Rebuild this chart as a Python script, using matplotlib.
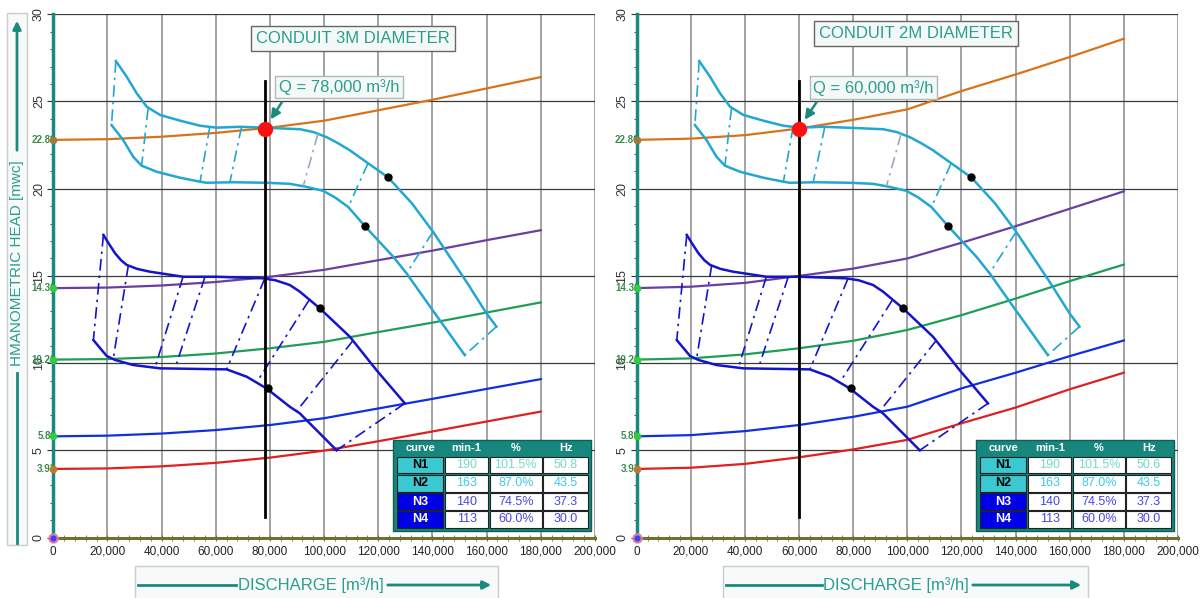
import matplotlib.pyplot as plt
from matplotlib.patches import Rectangle, FancyArrowPatch
from matplotlib.lines import Line2D
from matplotlib.ticker import MultipleLocator, FuncFormatter

plt.rcParams['font.family'] = ['Liberation Sans', 'DejaVu Sans']

# curvas del sistema (caudal en m3/h, altura en mca)
Q_SIS = [0, 20000, 40000, 60000, 80000, 100000, 120000, 140000, 160000, 180000]

H_3M_NARANJA = [22.80, 22.84, 22.98, 23.20, 23.50, 23.90, 24.50, 25.10, 25.75, 26.40]
H_3M_VIOLETA = [14.30, 14.33, 14.45, 14.65, 14.95, 15.35, 15.90, 16.45, 17.05, 17.62]
H_3M_VERDE = [10.20, 10.23, 10.35, 10.55, 10.85, 11.22, 11.78, 12.32, 12.90, 13.48]
H_3M_AZUL = [5.80, 5.84, 5.96, 6.16, 6.45, 6.84, 7.40, 7.95, 8.52, 9.08]
H_3M_ROJO = [3.93, 3.96, 4.08, 4.28, 4.58, 4.98, 5.52, 6.08, 6.65, 7.22]

H_2M_NARANJA = [22.80, 22.87, 23.07, 23.45, 23.95, 24.55, 25.60, 26.55, 27.55, 28.60]
H_2M_VIOLETA = [14.30, 14.38, 14.60, 15.00, 15.42, 16.00, 16.90, 17.85, 18.85, 19.85]
H_2M_VERDE = [10.20, 10.27, 10.50, 10.85, 11.28, 11.90, 12.75, 13.70, 14.70, 15.65]
H_2M_AZUL = [5.80, 5.87, 6.10, 6.45, 6.92, 7.50, 8.55, 9.45, 10.40, 11.30]
H_2M_ROJO = [3.93, 4.00, 4.22, 4.60, 5.05, 5.60, 6.55, 7.45, 8.50, 9.45]

H_INICIO = [22.80, 14.30, 10.20, 5.80, 3.93]
ETIQUETAS_INICIO = ["22.80", "14.30", "10.20", "5.80", "3.93"]

# curvas de la bomba N1..N4
N1_Q = [23100, 27100, 30800, 34500, 39400, 46800, 54200, 60300, 68900, 77500,
        91100, 96000, 101000, 105000, 109500, 116200, 123600, 132400, 140200,
        152900, 159900, 163600]
N1_H = [27.32, 26.42, 25.47, 24.70, 24.23, 23.90, 23.61, 23.50, 23.55, 23.50,
        23.41, 23.25, 22.95, 22.62, 22.20, 21.46, 20.65, 19.16, 17.53,
        14.58, 12.86, 12.09]

N2_Q = [21500, 25800, 29500, 32600, 38200, 46800, 54200, 56600, 66400, 78700,
        87300, 93000, 99600, 104000, 108900, 115000, 125500, 130400, 140200, 151900]
N2_H = [23.65, 22.79, 21.83, 21.32, 20.97, 20.63, 20.40, 20.34, 20.37, 20.34,
        20.28, 20.12, 19.88, 19.50, 18.95, 17.86, 16.10, 15.15, 13.00, 10.46]

N3_Q = [18500, 20500, 22800, 25000, 27100, 31000, 35700, 48000, 60300, 77500,
        82000, 87300, 91000, 98400, 109500, 119300, 129800]
N3_H = [17.35, 16.85, 16.30, 15.90, 15.63, 15.40, 15.24, 14.95, 14.95, 14.86,
        14.75, 14.48, 14.10, 13.14, 11.51, 9.60, 7.69]

N4_Q = [14800, 19700, 22800, 29500, 39400, 64000, 71400, 78700, 87300, 91000, 104600]
N4_H = [11.32, 10.41, 10.18, 9.89, 9.70, 9.64, 9.22, 8.55, 7.50, 7.12, 5.00]

# lineas de rendimiento entre curvas (punto alto -> punto bajo)
ISO_12_Q_ALTO = [23100, 35000, 57800, 69500, 97700, 116200, 140200, 163600]
ISO_12_H_ALTO = [27.32, 24.60, 23.55, 23.55, 23.15, 21.46, 17.53, 12.09]
ISO_12_Q_BAJO = [21500, 32600, 54200, 65200, 92300, 108900, 130400, 151900]
ISO_12_H_BAJO = [23.65, 21.32, 20.40, 20.37, 20.15, 18.95, 15.15, 10.46]

ISO_34_Q_ALTO = [18500, 27700, 47900, 56000, 78100, 94400, 110700, 129800]
ISO_34_H_ALTO = [17.35, 15.60, 14.95, 14.95, 14.86, 13.60, 11.30, 7.69]
ISO_34_Q_BAJO = [14800, 22100, 37500, 44900, 64000, 75100, 89800, 104600]
ISO_34_H_BAJO = [11.32, 10.22, 9.72, 9.68, 9.64, 8.90, 7.24, 5.00]

PUNTOS_Q = [123600, 115000, 98400, 79300]
PUNTOS_H = [20.65, 17.86, 13.14, 8.55]

H_OPERACION = 23.45
LINEA_OP_H = [1.2, 26.2]

# tabla
ENCABEZADO = ["curve", "min-1", "%", "Hz"]
CURVAS = ["N1", "N2", "N3", "N4"]
RPM = ["190", "163", "140", "113"]
PORCENTAJE = ["101.5%", "87.0%", "74.5%", "60.0%"]
HZ_3M = ["50.8", "43.5", "37.3", "30.0"]
HZ_2M = ["50.6", "43.5", "37.3", "30.0"]

TEAL = "#2a9d8f"
TEAL_OSCURO = "#1a8a7f"
CIAN = "#22a7d3"
AZUL_BOMBA = "#1414cc"
COLORES_SISTEMA = ["#d8731c", "#6b3fa0", "#1f9e55", "#1030e0", "#e02020"]
COLORES_INICIO = ["#9c7a3c", "#33cc44", "#2ecc40", "#2ecc40", "#c07830"]
COLOR_CELDA = ["#3cc8d0", "#3cc8d0", "#0000e6", "#0000e6"]
COLOR_TEXTO_CELDA = ["black", "black", "white", "white"]
COLOR_VALORES = ["#78d8c8", "#40c8e8", "#4646e6", "#4646e6"]

DASHDOT = (0, (7, 3, 1.5, 3))


def formato_miles(v, pos):
    return f"{int(v):,}"


def dibujar_tabla(ax, hz):
    x0, x1 = 125500, 198400
    ax.add_patch(Rectangle((x0, 0.37), x1 - x0, 5.22, fc="#17877d",
                           ec="#0d5f58", lw=1, zorder=6))
    cols = [(126800, 144000), (144600, 160600), (161200, 180300), (180900, 197500)]
    filas = [(3.64, 4.63), (2.57, 3.64), (1.54, 2.57), (0.53, 1.54)]

    for (ca, cb), t in zip(cols, ENCABEZADO):
        ax.text((ca + cb) / 2, 5.11, t, color="white", ha="center", va="center",
                fontsize=8, fontweight="bold", zorder=8)

    for i, (ya, yb) in enumerate(filas):
        valores = [CURVAS[i], RPM[i], PORCENTAJE[i], hz[i]]
        for j, (ca, cb) in enumerate(cols):
            fc = COLOR_CELDA[i] if j == 0 else "white"
            ax.add_patch(Rectangle((ca, ya + 0.04), cb - ca, yb - ya - 0.08,
                                   fc=fc, ec="#222222", lw=0.8, zorder=7))
            if j == 0:
                ax.text((ca + cb) / 2, (ya + yb) / 2, valores[j],
                        color=COLOR_TEXTO_CELDA[i], ha="center", va="center",
                        fontsize=9, fontweight="bold", zorder=8)
            else:
                ax.text((ca + cb) / 2, (ya + yb) / 2, valores[j],
                        color=COLOR_VALORES[i], ha="center", va="center",
                        fontsize=9, zorder=8)


def dibujar_panel(ax, curvas_sistema, q_op, titulo, pos_titulo, texto_q, pos_q,
                  flecha, hz):
    ax.set_xlim(0, 200000)
    ax.set_ylim(0, 30)

    ax.xaxis.set_major_locator(MultipleLocator(20000))
    ax.xaxis.set_minor_locator(MultipleLocator(4000))
    ax.yaxis.set_major_locator(MultipleLocator(5))
    ax.yaxis.set_minor_locator(MultipleLocator(1))
    ax.xaxis.set_major_formatter(FuncFormatter(formato_miles))

    ax.grid(which="major", axis="x", color="#8a8a8a", lw=1.1, zorder=0)
    ax.grid(which="major", axis="y", color="#3a3a3a", lw=0.9, zorder=0)
    ax.set_axisbelow(True)

    for lado in ["top", "right"]:
        ax.spines[lado].set_visible(False)
    ax.spines["left"].set_color("#1a8a80")
    ax.spines["left"].set_linewidth(2.5)
    ax.spines["bottom"].set_color("#707030")
    ax.spines["bottom"].set_linewidth(2.2)

    ax.tick_params(axis="y", which="major", direction="out", length=4,
                   color="#333333", labelrotation=90, labelsize=9,
                   labelcolor="#333333", pad=2)
    ax.tick_params(axis="y", which="minor", direction="out", length=2.5,
                   color="#333333")
    ax.tick_params(axis="x", which="both", direction="inout", length=4,
                   color="#707030", labelsize=8.5, labelcolor="#222222", pad=4)
    for lbl in ax.get_yticklabels():
        lbl.set_verticalalignment("center")

    # curvas del sistema
    for h, c in zip(curvas_sistema, COLORES_SISTEMA):
        ax.plot(Q_SIS, h, color=c, lw=1.6, zorder=3)

    # bandas de la bomba
    ax.plot(N1_Q, N1_H, color=CIAN, lw=1.8, zorder=4)
    ax.plot(N2_Q, N2_H, color=CIAN, lw=1.8, zorder=4)
    ax.plot(N3_Q, N3_H, color=AZUL_BOMBA, lw=1.8, zorder=4)
    ax.plot(N4_Q, N4_H, color=AZUL_BOMBA, lw=1.8, zorder=4)

    for i in range(len(ISO_12_Q_ALTO)):
        color = "#9aaabb" if i == 4 else CIAN
        ax.plot([ISO_12_Q_ALTO[i], ISO_12_Q_BAJO[i]],
                [ISO_12_H_ALTO[i], ISO_12_H_BAJO[i]],
                color=color, lw=1.2, linestyle=DASHDOT, zorder=4)
    for i in range(len(ISO_34_Q_ALTO)):
        ax.plot([ISO_34_Q_ALTO[i], ISO_34_Q_BAJO[i]],
                [ISO_34_H_ALTO[i], ISO_34_H_BAJO[i]],
                color=AZUL_BOMBA, lw=1.2, linestyle=DASHDOT, zorder=4)

    ax.plot(PUNTOS_Q, PUNTOS_H, "o", color="black", ms=5, zorder=6)

    # punto de operacion
    ax.plot([q_op, q_op], LINEA_OP_H, color="black", lw=2, zorder=5)
    ax.plot(q_op, H_OPERACION, "o", color="#ff1010", ms=10, zorder=9)

    # marcas de inicio
    for h, c, t in zip(H_INICIO, COLORES_INICIO, ETIQUETAS_INICIO):
        ax.plot(0, h, "o", color=c, ms=4.5, clip_on=False, zorder=10)
        ax.annotate(t, xy=(0, h), xytext=(2, 0), textcoords="offset points",
                    ha="right", va="center", fontsize=7, fontweight="bold",
                    color="#3a8a4a", annotation_clip=False, zorder=9)
    ax.plot(0, 0, "o", mfc="#4040ff", mec="#e080a0", mew=1.5, ms=6,
            clip_on=False, zorder=10)

    ax.text(pos_titulo[0], pos_titulo[1], titulo, color=TEAL, fontsize=12,
            ha="center", va="center", zorder=9,
            bbox=dict(boxstyle="square,pad=0.3", fc="#f4f9f8", ec="#666666", lw=1))
    ax.text(pos_q[0], pos_q[1], texto_q, color=TEAL, fontsize=12,
            ha="center", va="center", zorder=9,
            bbox=dict(boxstyle="square,pad=0.2", fc="#f4f9f8", ec="#b0b8b8", lw=1))
    ax.annotate("", xy=flecha[1], xytext=flecha[0],
                arrowprops=dict(arrowstyle="-|>", color=TEAL_OSCURO, lw=1.8,
                                mutation_scale=14), zorder=9)

    dibujar_tabla(ax, hz)


def fig_px(fig, x, y):
    return x / 1203, 1 - y / 598


def etiqueta_x(fig, x0, x1, xt0, xt1, xc):
    fx, fy = fig_px(fig, x0, 600)
    fig.add_artist(Rectangle((fx, fy), (x1 - x0) / 1203, 34 / 598,
                             transform=fig.transFigure, fc="#f7faf9",
                             ec="#c8cccc", lw=1))
    y = 585
    a = fig_px(fig, x0 + 3, y)
    b = fig_px(fig, xt0, y)
    fig.add_artist(Line2D([a[0], b[0]], [a[1], b[1]], transform=fig.transFigure,
                          color=TEAL_OSCURO, lw=2))
    c = fig_px(fig, xt1, y)
    d = fig_px(fig, x1 - 4, y)
    fig.add_artist(FancyArrowPatch(c, d, transform=fig.transFigure,
                                   arrowstyle="-|>", mutation_scale=12,
                                   color=TEAL_OSCURO, lw=2))
    p = fig_px(fig, xc, y)
    fig.text(p[0], p[1], "DISCHARGE [m³/h]", color=TEAL, fontsize=12,
             ha="center", va="center")


def etiqueta_y(fig):
    fx, fy = fig_px(fig, 6.7, 545)
    fig.add_artist(Rectangle((fx, fy), 20.6 / 1203, 532 / 598,
                             transform=fig.transFigure, fc="#f7faf9",
                             ec="#c8cccc", lw=1))
    x = 17
    a = fig_px(fig, x, 543)
    b = fig_px(fig, x, 373)
    fig.add_artist(Line2D([a[0], b[0]], [a[1], b[1]], transform=fig.transFigure,
                          color=TEAL_OSCURO, lw=2))
    c = fig_px(fig, x, 153)
    d = fig_px(fig, x, 18)
    fig.add_artist(FancyArrowPatch(c, d, transform=fig.transFigure,
                                   arrowstyle="-|>", mutation_scale=12,
                                   color=TEAL_OSCURO, lw=2))
    p = fig_px(fig, x, 263)
    fig.text(p[0], p[1], "HMANOMETRIC HEAD [mwc]", color=TEAL, fontsize=11,
             rotation=90, ha="center", va="center")


def main():
    fig = plt.figure(figsize=(12.03, 5.98), dpi=100)
    ax1 = fig.add_axes([53.3 / 1203, 1 - 537.5 / 598, 541.7 / 1203, 523.2 / 598])
    ax2 = fig.add_axes([636.7 / 1203, 1 - 537.5 / 598, 541.3 / 1203, 523.2 / 598])

    dibujar_panel(ax1,
                  [H_3M_NARANJA, H_3M_VIOLETA, H_3M_VERDE, H_3M_AZUL, H_3M_ROJO],
                  78000, "CONDUIT 3M DIAMETER", (110600, 28.64),
                  "Q = 78,000 m³/h", (105500, 25.83),
                  ((84900, 25.08), (79700, 23.84)), HZ_3M)
    dibujar_panel(ax2,
                  [H_2M_NARANJA, H_2M_VIOLETA, H_2M_VERDE, H_2M_AZUL, H_2M_ROJO],
                  60000, "CONDUIT 2M DIAMETER", (103100, 28.9),
                  "Q = 60,000 m³/h", (87400, 25.8),
                  ((67000, 25.08), (61500, 23.82)), HZ_2M)

    etiqueta_y(fig)
    etiqueta_x(fig, 135, 498, 236, 385, 310.5)
    etiqueta_x(fig, 723, 1088, 822, 970, 896)

    fig.savefig("out.png", dpi=100)


if __name__ == "__main__":
    main()
